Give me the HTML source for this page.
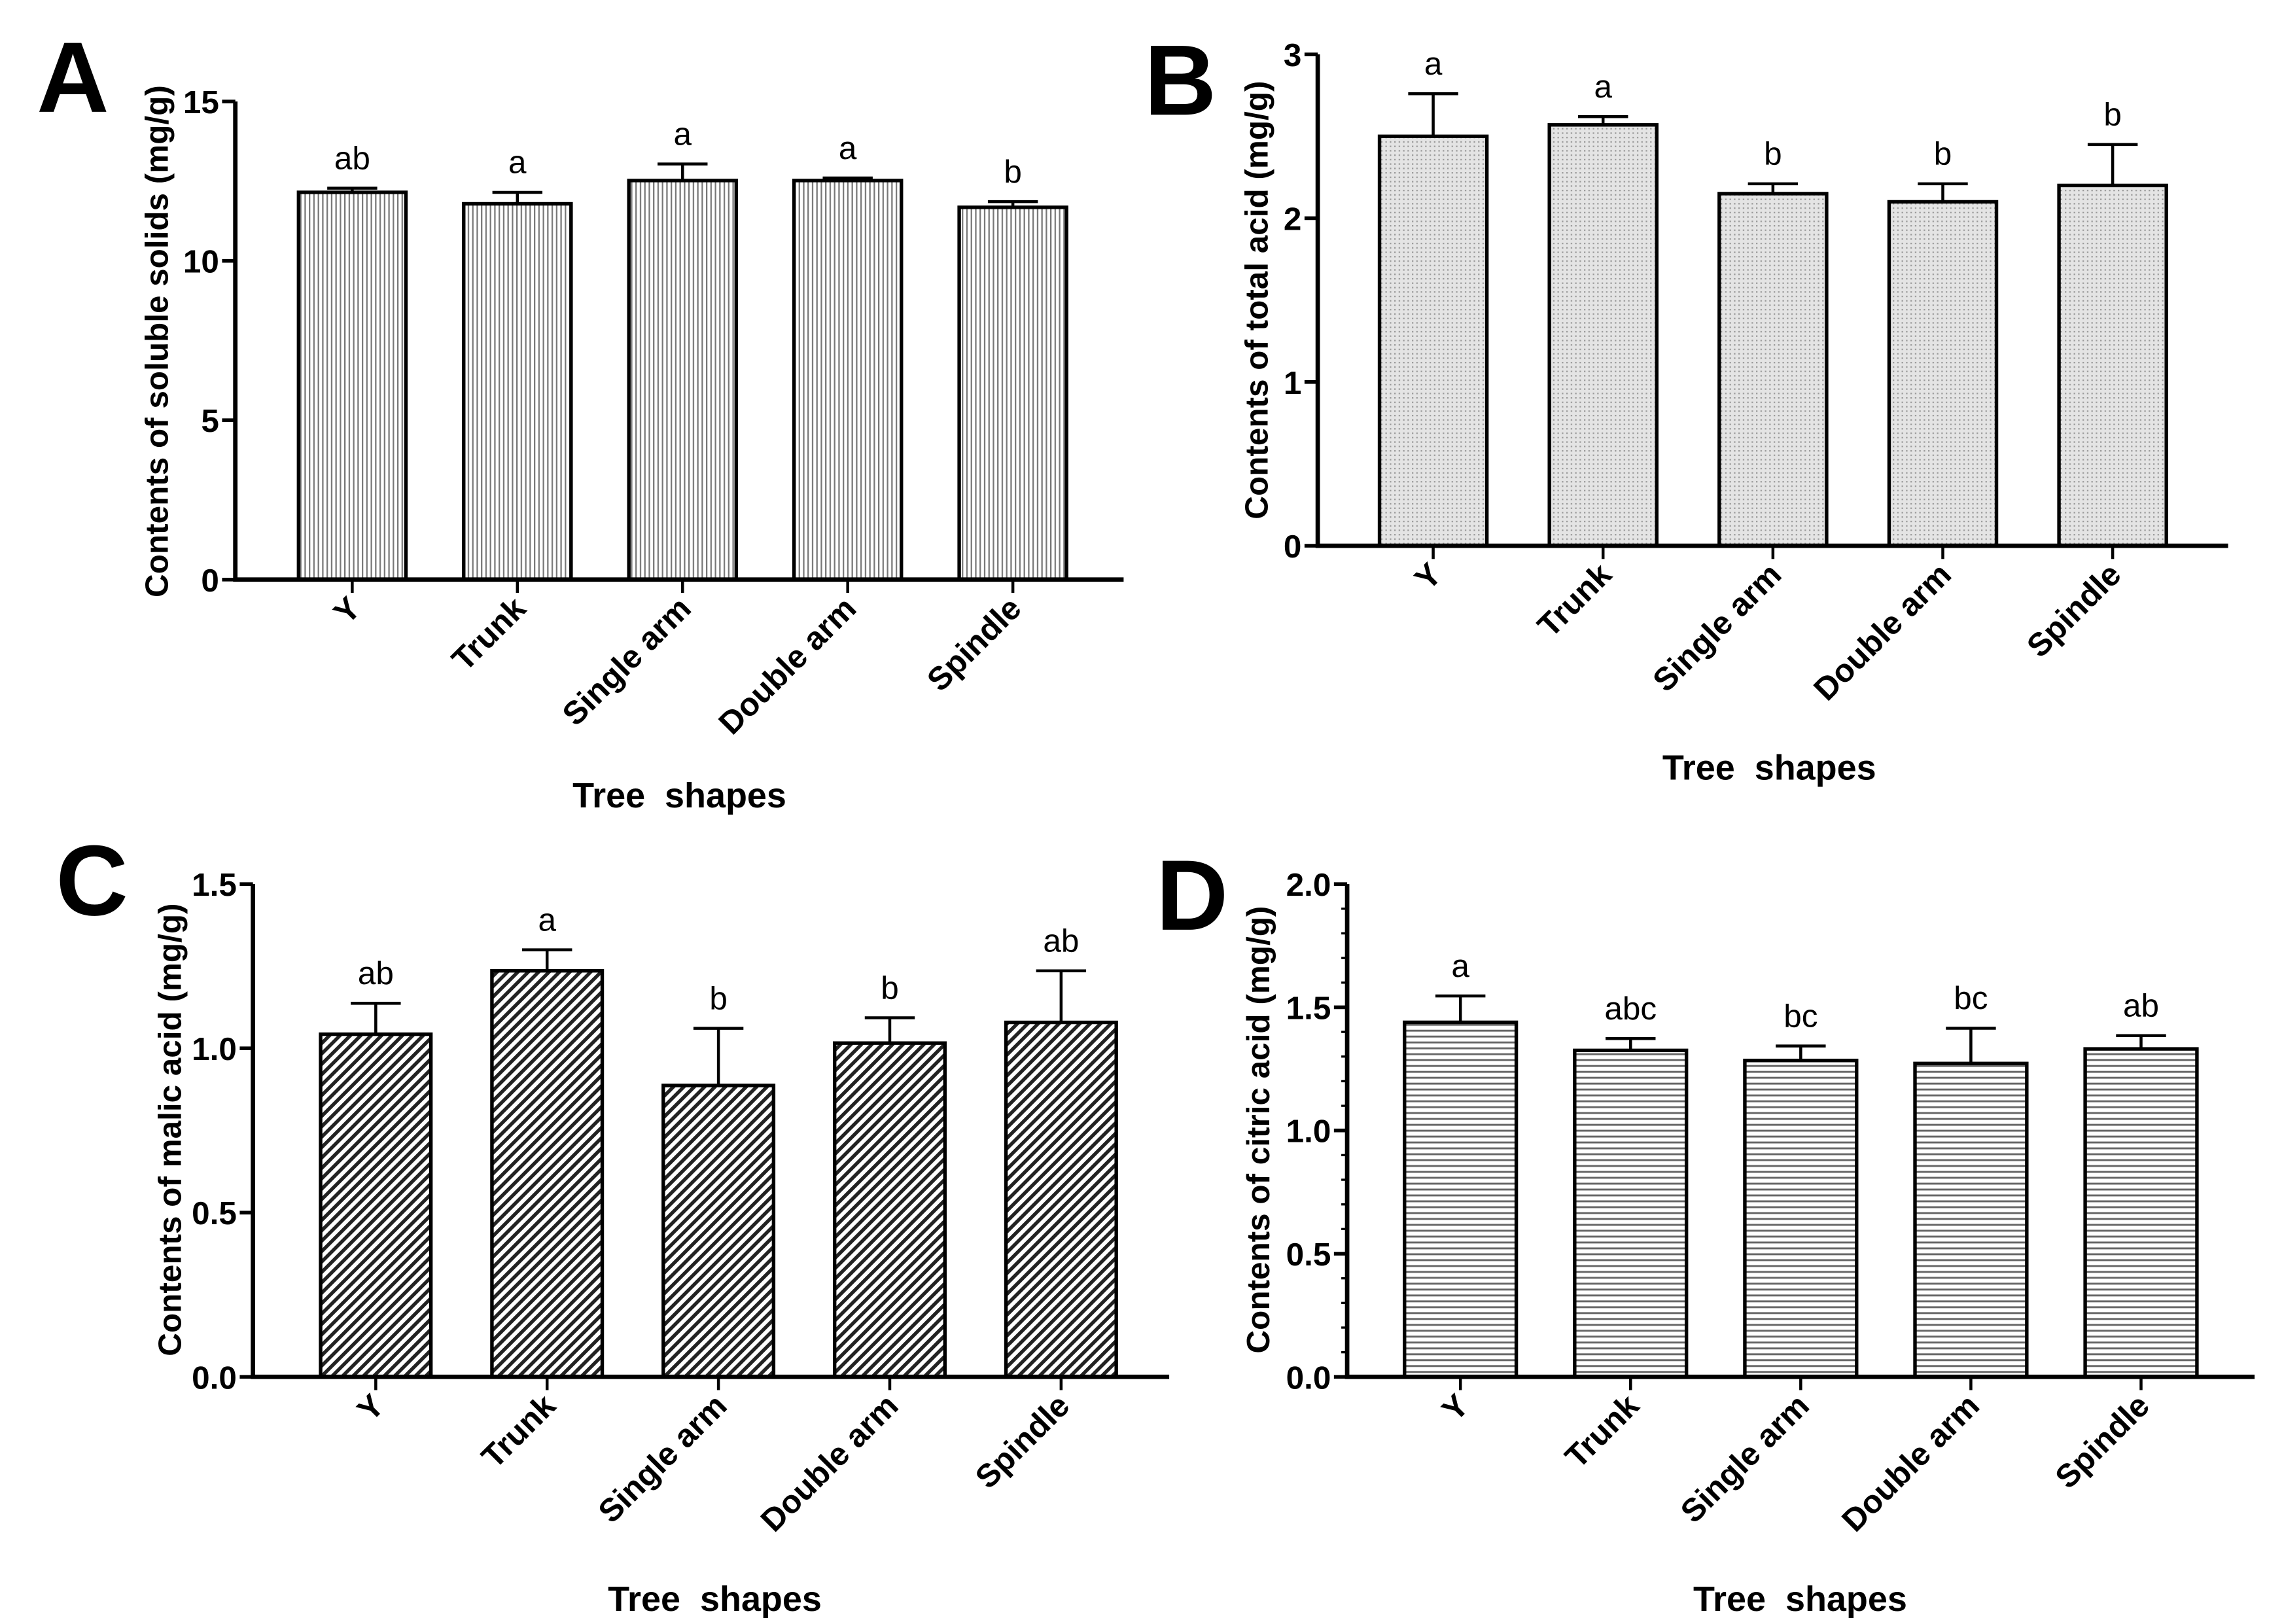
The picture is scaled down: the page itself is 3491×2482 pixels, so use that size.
<!DOCTYPE html>
<html><head><meta charset="utf-8"><style>
html,body{margin:0;padding:0;background:#fff}
svg{display:block}
text{font-family:"Liberation Sans",Arial,sans-serif}
</style></head><body>
<svg id="fig" width="3491" height="2482" viewBox="0 0 1553 1104" preserveAspectRatio="none" xmlns="http://www.w3.org/2000/svg">
<defs>
<pattern id="pV" width="3" height="10" patternUnits="userSpaceOnUse"><rect width="3" height="10" fill="#fff"/><rect width="1" height="10" fill="#777"/></pattern>
<pattern id="pDot" width="3" height="3" patternUnits="userSpaceOnUse"><rect width="3" height="3" fill="#e4e4e4"/><rect width="1" height="1" fill="#999"/></pattern>
<pattern id="pDiag" width="5" height="5" patternUnits="userSpaceOnUse" patternTransform="rotate(45)"><rect width="5" height="5" fill="#fff"/><rect width="2.4" height="5" fill="#222"/></pattern>
<pattern id="pH" width="10" height="4" patternUnits="userSpaceOnUse"><rect width="10" height="4" fill="#fff"/><rect width="10" height="1.3" fill="#666"/></pattern>
</defs>
</svg>
<script>
const categories = ["Y","Trunk","Single arm","Double arm","Spindle"];
const valuesA = [12.15, 11.79, 12.52, 12.52, 11.68];
const errA = [0.13, 0.36, 0.52, 0.08, 0.18];
const lettersA = ["ab","a","a","a","b"];
const ticksA = [0,5,10,15];
const valuesB = [2.50, 2.57, 2.15, 2.10, 2.20];
const errB = [0.26, 0.05, 0.06, 0.11, 0.25];
const lettersB = ["a","a","b","b","b"];
const ticksB = [0,1,2,3];
const valuesC = [1.043, 1.236, 0.887, 1.016, 1.079];
const errC = [0.094, 0.064, 0.174, 0.077, 0.157];
const lettersC = ["ab","a","b","b","ab"];
const ticksC = [0.0,0.5,1.0,1.5];
const valuesD = [1.439, 1.325, 1.284, 1.272, 1.331];
const errD = [0.107, 0.048, 0.059, 0.143, 0.054];
const lettersD = ["a","abc","bc","bc","ab"];
const ticksD = [0.0,0.5,1.0,1.5,2.0];

const NS="http://www.w3.org/2000/svg";
const svg=document.getElementById('fig');
function mk(tag,attrs,parent){const e=document.createElementNS(NS,tag);for(const k in attrs)e.setAttribute(k,attrs[k]);(parent||svg).appendChild(e);return e;}

function panel(cfg){
  const g=mk('g',{});
  
  
  const yS=v=>cfg.y0-(v/cfg.max)*(cfg.y0-cfg.yTop);
  const xS=i=>cfg.x1+i*cfg.step;
  const bw=cfg.bw;
  cfg.vals.forEach((v,i)=>{
    const x=xS(i), y=yS(v);
    const r=mk('rect',{x:x,y:y,width:bw,height:cfg.y0-y,fill:'url(#'+cfg.pat+')',stroke:'#000','stroke-width':2.4},g);
    
    
    const cx=x+bw/2, et=yS(v+cfg.err[i]);
    const eb=mk('path',{d:`M${cx} ${y}V${et}M${cx-17} ${et}H${cx+17}`,stroke:'#000','stroke-width':2,fill:'none'},g);
    
    
    const t=mk('text',{x:cx,y:et-13,'font-size':22,'text-anchor':'middle'},g);
    t.textContent=cfg.letters[i];
    
    
    mk('line',{x1:cx,x2:cx,y1:cfg.y0,y2:cfg.y0+9,stroke:'#000','stroke-width':2},g);
    const lb=mk('text',{x:0,y:0,'font-size':22,'font-weight':'bold','text-anchor':'end',transform:`translate(${cx+7},${cfg.y0+21}) rotate(-45)`},g);
    lb.textContent=categories[i];
    
    
  });
  const ax=mk('path',{d:`M${cfg.ax} ${cfg.yTop}V${cfg.y0}H${cfg.xEnd}`,stroke:'#000','stroke-width':3,fill:'none'},g);
  
  
  cfg.ticks.forEach(v=>{
    const y=yS(v);
    mk('line',{x1:cfg.ax-9,x2:cfg.ax,y1:y,y2:y,stroke:'#000','stroke-width':2.5},g);
    const t=mk('text',{x:cfg.ax-11,y:y+8,'font-size':22,'font-weight':'bold','text-anchor':'end'},g);
    t.textContent=cfg.fmt(v);
    
    
  });
  if(cfg.minor){for(let v=cfg.minor;v<cfg.max;v+=cfg.minor){const y=yS(v);mk('line',{x1:cfg.ax-4,x2:cfg.ax,y1:y,y2:y,stroke:'#000','stroke-width':1.5},g);}}
  const yt=mk('text',{x:0,y:0,'font-size':22,'font-weight':'bold','text-anchor':'middle',transform:`translate(${cfg.ytx},${cfg.yty}) rotate(-90)`},g);
  yt.textContent=cfg.ytitle;
  
  
  const xt=mk('text',{x:cfg.xtx,y:cfg.xty,'font-size':24,'font-weight':'bold','text-anchor':'middle'},g);
  xt.textContent='Tree  shapes';
  xt.setAttribute('style','white-space:pre');
  
  
  const pl=mk('text',{x:cfg.lx,y:cfg.ly,'font-size':68,'font-weight':'bold'},g);
  pl.textContent=cfg.id;
  
  
}
panel({id:'A',vals:valuesA,err:errA,letters:lettersA,ticks:ticksA,max:15,y0:394,yTop:69,ax:160,xEnd:764,x1:203,step:112.3,bw:73,pat:'pV',fmt:v=>String(v),ytitle:'Contents of soluble solids (mg/g)',ytx:114,yty:232,xtx:462,xty:549,lx:25,ly:76});
panel({id:'B',vals:valuesB,err:errB,letters:lettersB,ticks:ticksB,max:3,y0:371,yTop:37,ax:896,xEnd:1515,x1:938,step:115.5,bw:73,pat:'pDot',fmt:v=>String(v),ytitle:'Contents of total acid (mg/g)',ytx:862,yty:204,xtx:1203,xty:530,lx:778,ly:78});
panel({id:'C',vals:valuesC,err:errC,letters:lettersC,ticks:ticksC,max:1.5,y0:936,yTop:601,ax:172,xEnd:795,x1:218,step:116.5,bw:75,pat:'pDiag',fmt:v=>v.toFixed(1),ytitle:'Contents of malic acid (mg/g)',ytx:123,yty:768,xtx:486,xty:1095,lx:38,ly:622});
panel({id:'D',vals:valuesD,err:errD,letters:lettersD,ticks:ticksD,max:2,y0:936,yTop:601,ax:916,xEnd:1533,x1:955,step:115.7,bw:76,pat:'pH',fmt:v=>v.toFixed(1),ytitle:'Contents of citric acid (mg/g)',ytx:863,yty:768,xtx:1224,xty:1095,lx:786,ly:632,minor:0.1});
</script>
</body></html>
